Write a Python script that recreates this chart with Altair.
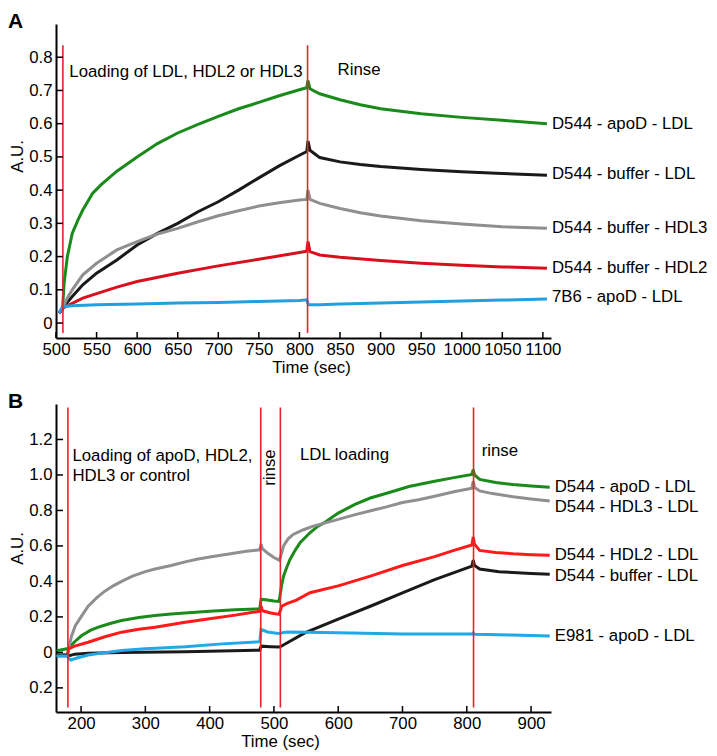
import altair as alt
import pandas as pd

# ---------------- Panel A data (time in sec, A.U.) ----------------
A_green_t = [504, 508, 510, 514, 520, 527, 533, 545, 555, 575, 600, 625, 650, 675, 700, 725, 750, 775, 800, 809, 810.5, 813, 825, 850, 875, 900, 950, 1000, 1050, 1105]
A_green_v = [0.03, 0.04, 0.12, 0.2, 0.27, 0.31, 0.34, 0.39, 0.415, 0.457, 0.50, 0.54, 0.572, 0.598, 0.622, 0.645, 0.664, 0.684, 0.702, 0.708, 0.73, 0.705, 0.69, 0.672, 0.657, 0.645, 0.63, 0.619, 0.61, 0.60]

A_black_t = [504, 508, 520, 533, 550, 575, 600, 625, 650, 675, 700, 725, 750, 775, 800, 809, 810.5, 813, 825, 850, 875, 900, 950, 1000, 1050, 1105]
A_black_v = [0.03, 0.045, 0.08, 0.115, 0.15, 0.19, 0.235, 0.27, 0.30, 0.335, 0.365, 0.40, 0.437, 0.473, 0.505, 0.516, 0.548, 0.52, 0.498, 0.485, 0.477, 0.471, 0.462, 0.455, 0.45, 0.445]

A_gray_t = [504, 508, 515, 520, 533, 550, 575, 600, 625, 650, 675, 700, 725, 750, 775, 800, 809, 810.5, 813, 825, 850, 875, 900, 950, 1000, 1050, 1105]
A_gray_v = [0.03, 0.045, 0.08, 0.10, 0.145, 0.18, 0.22, 0.245, 0.268, 0.285, 0.305, 0.323, 0.338, 0.352, 0.362, 0.37, 0.372, 0.40, 0.372, 0.36, 0.345, 0.332, 0.322, 0.308, 0.298, 0.29, 0.285]

A_red_t = [504, 508, 533, 575, 600, 650, 700, 750, 800, 809, 810.5, 813, 825, 850, 900, 950, 1000, 1050, 1105]
A_red_v = [0.03, 0.045, 0.075, 0.108, 0.125, 0.15, 0.172, 0.192, 0.212, 0.216, 0.245, 0.215, 0.205, 0.198, 0.188, 0.18, 0.174, 0.169, 0.165]

A_blue_t = [504, 508, 520, 550, 600, 650, 700, 750, 800, 809, 811, 825, 850, 900, 950, 1000, 1050, 1105]
A_blue_v = [0.03, 0.05, 0.052, 0.055, 0.057, 0.06, 0.062, 0.065, 0.068, 0.07, 0.055, 0.055, 0.057, 0.06, 0.063, 0.066, 0.069, 0.072]

A_series = ["D544 - apoD - LDL", "D544 - buffer - LDL", "D544 - buffer - HDL3", "D544 - buffer - HDL2", "7B6 - apoD - LDL"]
A_label_v = [0.60, 0.448, 0.286, 0.166, 0.079]
A_vlines = [508.5, 810]
A_xticks = [500, 550, 600, 650, 700, 750, 800, 850, 900, 950, 1000, 1050, 1100]
A_yticks = [0, 0.1, 0.2, 0.3, 0.4, 0.5, 0.6, 0.7, 0.8]
A_notes = ["Loading of LDL, HDL2 or HDL3", "Rinse"]
A_notes_t = [516.4, 847]
A_notes_v = [0.755, 0.761]

# ---------------- Panel B data ----------------
B_green_t = [162, 178, 180.5, 190, 201, 215, 227, 245, 263, 290, 315, 340, 362, 400, 440, 478, 480, 490, 500, 508, 509.5, 512, 515, 520, 525, 533, 541, 548, 556, 568, 580, 600, 626, 650, 678, 710, 750, 780, 808, 810, 812, 820, 845, 872, 900, 929]
B_green_v = [0.01, 0.02, 0.025, 0.06, 0.095, 0.125, 0.142, 0.163, 0.18, 0.197, 0.208, 0.216, 0.222, 0.232, 0.24, 0.246, 0.30, 0.295, 0.29, 0.288, 0.32, 0.38, 0.43, 0.48, 0.524, 0.575, 0.62, 0.645, 0.674, 0.71, 0.735, 0.785, 0.834, 0.87, 0.90, 0.935, 0.965, 0.985, 1.003, 1.03, 1.0, 0.975, 0.958, 0.946, 0.938, 0.931]

B_gray_t = [162, 179, 180.5, 185, 191, 200, 211, 225, 237, 250, 263, 280, 300, 315, 340, 362, 380, 405, 430, 457, 478, 480, 482, 490, 500, 508, 510, 515, 522, 530, 545, 560, 580, 600, 625, 652, 675, 700, 725, 750, 780, 808, 810, 812, 820, 840, 872, 900, 929]
B_gray_v = [-0.02, -0.02, 0.02, 0.09, 0.15, 0.2, 0.26, 0.31, 0.345, 0.375, 0.40, 0.43, 0.455, 0.47, 0.49, 0.51, 0.525, 0.54, 0.555, 0.57, 0.578, 0.61, 0.585, 0.56, 0.535, 0.52, 0.535, 0.60, 0.64, 0.665, 0.69, 0.71, 0.73, 0.75, 0.775, 0.80, 0.82, 0.845, 0.86, 0.88, 0.905, 0.925, 0.965, 0.93, 0.91, 0.895, 0.877, 0.865, 0.853]

B_red_t = [162, 179, 180.5, 190, 211, 237, 263, 290, 315, 362, 400, 440, 478, 480, 482, 495, 508, 509.5, 512, 520, 535, 556, 600, 650, 700, 750, 780, 808, 810, 812, 820, 845, 872, 900, 929]
B_red_v = [-0.015, -0.015, 0.02, 0.035, 0.057, 0.088, 0.114, 0.13, 0.142, 0.17, 0.19, 0.21, 0.232, 0.262, 0.235, 0.222, 0.214, 0.23, 0.26, 0.275, 0.295, 0.336, 0.375, 0.43, 0.49, 0.54, 0.575, 0.605, 0.65, 0.61, 0.575, 0.563, 0.556, 0.551, 0.548]

B_black_t = [162, 179, 181, 190, 211, 263, 362, 478, 480, 495, 508, 510, 548, 600, 650, 700, 750, 808, 810, 812, 820, 850, 872, 900, 929]
B_black_v = [-0.015, -0.015, -0.02, -0.01, -0.005, 0.0, 0.004, 0.012, 0.035, 0.032, 0.03, 0.032, 0.11, 0.187, 0.26, 0.335, 0.41, 0.486, 0.52, 0.49, 0.47, 0.455, 0.45, 0.445, 0.44]

B_blue_t = [162, 179, 181, 184, 195, 211, 240, 263, 300, 362, 420, 478, 480, 490, 507, 520, 550, 600, 700, 808, 810, 812, 870, 929]
B_blue_v = [-0.02, -0.02, -0.035, -0.043, -0.03, -0.015, 0.0, 0.01, 0.02, 0.032, 0.048, 0.06, 0.13, 0.115, 0.107, 0.115, 0.113, 0.11, 0.104, 0.103, 0.11, 0.102, 0.098, 0.092]

B_series = ["D544 - apoD - LDL", "D544 - HDL3 - LDL", "D544 - HDL2 - LDL", "D544 - buffer - LDL", "E981 - apoD - LDL"]
B_label_v = [0.935, 0.82, 0.55, 0.43, 0.09]
B_vlines = [179.5, 479.5, 510, 810.5]
B_xticks = [200, 300, 400, 500, 600, 700, 800, 900]
B_yticks = [-0.2, 0, 0.2, 0.4, 0.6, 0.8, 1.0, 1.2]
B_notes = ["Loading of apoD, HDL2,", "HDL3 or control", "LDL loading", "rinse"]
B_notes_t = [186.5, 186.5, 540.6, 823.2]
B_notes_v = [1.106, 0.993, 1.11, 1.134]
B_vnote = ["rinse"]
B_vnote_t = [493.9]
B_vnote_v = [1.042]

FONT = "Liberation Sans"
FS = 16.8


def lines_df(series, ts, vs):
    rows = []
    for s, tt, vv in zip(series, ts, vs):
        for t, v in zip(tt, vv):
            rows.append({"series": s, "t": t, "v": v})
    return pd.DataFrame(rows)


def panel(letter, series, colors, ts, vs, label_v, vlines, vrange, xdom, ydom,
          xticks, yticks, notes, notes_t, notes_v, width, height, ytitle_y, xtitle_x,
          vnote=None, vnote_t=None, vnote_v=None):
    xs = alt.Scale(domain=xdom, nice=False, zero=False)
    ys = alt.Scale(domain=ydom, nice=False, zero=False)
    ax_x = alt.Axis(
        title="Time (sec)", values=xticks, format="d", ticks=False, tickSize=0,
        labelOverlap=False, labelFlush=False, labelPadding=3, labelFontSize=FS,
        labelColor="black", labelFont=FONT,
        domainColor="black", domainWidth=2, grid=False,
        titleFontSize=FS, titleFont=FONT, titleFontWeight="normal", titleColor="black",
        titleX=xtitle_x, titleY=29, titleBaseline="middle", titleAlign="center")
    ax_y = alt.Axis(
        title="A.U.", values=yticks, ticks=False, tickSize=0,
        labelOverlap=False, labelFlush=False,
        labelExpr="datum.value == 0 ? '0' : format(abs(datum.value), '.1f')",
        labelPadding=4, labelFontSize=FS, labelColor="black", labelFont=FONT,
        domainColor="black", domainWidth=2, grid=False,
        titleFontSize=FS, titleFont=FONT, titleFontWeight="normal", titleColor="black",
        titleAngle=270, titleX=-30, titleY=ytitle_y, titleBaseline="bottom", titleAlign="center")
    X = lambda: alt.X("t:Q", scale=xs, axis=ax_x)
    Y = lambda: alt.Y("v:Q", scale=ys, axis=ax_y)

    df = lines_df(series, ts, vs)
    color = alt.Color("series:N", scale=alt.Scale(domain=series, range=colors), legend=None)

    lines = alt.Chart(df).mark_line(strokeWidth=3, clip=True).encode(
        x=X(), y=Y(), color=color, order=alt.Order("t:Q"), detail="series:N")

    vdf = pd.DataFrame({"t": vlines, "v": [vrange[0]] * len(vlines), "v2": [vrange[1]] * len(vlines)})
    vrules = alt.Chart(vdf).mark_rule(color="#e8232b", strokeWidth=1.6).encode(
        x=X(), y=Y(), y2="v2:Q")

    xt = pd.DataFrame({"t": xticks})
    xtick_marks = alt.Chart(xt).mark_rule(color="black", strokeWidth=1.5).encode(
        x=X(), y=alt.value(height), y2=alt.value(height - 6))
    yt = pd.DataFrame({"v": yticks})
    ytick_marks = alt.Chart(yt).mark_rule(color="black", strokeWidth=1.5).encode(
        y=Y(), x=alt.value(0), x2=alt.value(7))

    ldf = pd.DataFrame({"series": series, "t": [max(t) for t in ts], "v": label_v})
    labels = alt.Chart(ldf).mark_text(align="left", baseline="middle", dx=5, fontSize=FS,
                                      font=FONT, color="black").encode(
        x=X(), y=Y(), text="series:N")

    ndf = pd.DataFrame({"note": notes, "t": notes_t, "v": notes_v})
    notes_m = alt.Chart(ndf).mark_text(align="left", baseline="middle", fontSize=FS,
                                       font=FONT, color="black").encode(
        x=X(), y=Y(), text="note:N")

    layers = [lines, vrules, xtick_marks, ytick_marks, labels, notes_m]

    if vnote:
        vn = pd.DataFrame({"note": vnote, "t": vnote_t, "v": vnote_v})
        layers.append(alt.Chart(vn).mark_text(align="center", baseline="middle", angle=270,
                                              fontSize=FS, font=FONT, color="black").encode(
            x=X(), y=Y(), text="note:N"))

    let = pd.DataFrame({"letter": [letter]})
    layers.append(alt.Chart(let).mark_text(align="left", baseline="top", fontSize=21,
                                           fontWeight="bold", font=FONT, color="black").encode(
        x=alt.value(-48), y=alt.value(-13), text="letter:N"))

    return alt.layer(*layers).properties(width=width, height=height)


chartA = panel("A", A_series, ["#1a8a1a", "#1a1a1a", "#8f8f8f", "#d8101e", "#21a0e0"],
               [A_green_t, A_black_t, A_gray_t, A_red_t, A_blue_t],
               [A_green_v, A_black_v, A_gray_v, A_red_v, A_blue_v],
               A_label_v, A_vlines, [-0.03, 0.836], [500, 1110], [-0.045, 0.9],
               A_xticks, A_yticks, A_notes, A_notes_t, A_notes_v, 495, 314, 132, 255)

chartB = panel("B", B_series, ["#1a8a1a", "#8f8f8f", "#ff1a1a", "#1a1a1a", "#21a8e6"],
               [B_green_t, B_gray_t, B_red_t, B_black_t, B_blue_t],
               [B_green_v, B_gray_v, B_red_v, B_black_v, B_blue_v],
               B_label_v, B_vlines, [-0.31, 1.38], [161, 931], [-0.336, 1.4],
               B_xticks, B_yticks, B_notes, B_notes_t, B_notes_v, 495, 308, 144, 224,
               B_vnote, B_vnote_t, B_vnote_v)

chart = alt.vconcat(chartA, chartB, spacing=15).resolve_scale(
    color="independent", x="independent", y="independent"
).properties(padding={"top": 3, "left": 0, "right": 0, "bottom": 0}).configure(
    font=FONT,
    view=alt.ViewConfig(stroke=None),
    axis=alt.AxisConfig(labelOverlap=False, labelFlush=False),
)

chart.save("out.html", embed_options={"renderer": "svg", "actions": False})
